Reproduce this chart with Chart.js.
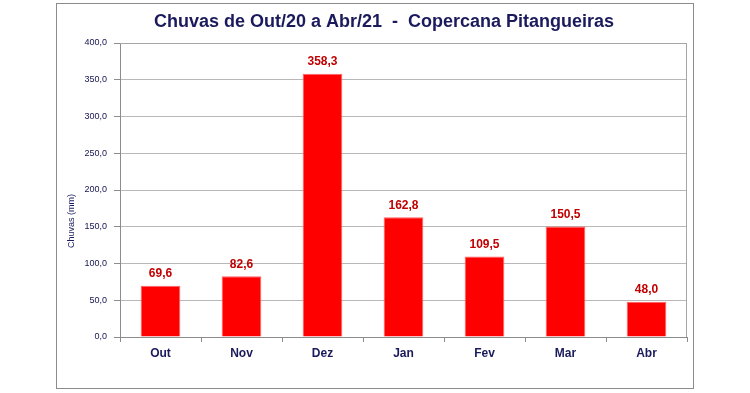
<!DOCTYPE html>
<html>
<head>
<meta charset="utf-8">
<script src="https://cdn.jsdelivr.net/npm/chart.js@4/dist/chart.umd.min.js"></script>
<style>
html,body{margin:0;padding:0;background:#fff;}
#wrap{width:750px;height:393px;}
</style>
</head>
<body>
<div id="wrap"><canvas id="c" width="750" height="393"></canvas></div>
<script>
const categories = ['Out','Nov','Dez','Jan','Fev','Mar','Abr'];
const rainfall = [69.6, 82.6, 358.3, 162.8, 109.5, 150.5, 48.0];
const yTicks = [0, 50, 100, 150, 200, 250, 300, 350, 400];
const titleText = 'Chuvas de Out/20 a Abr/21  -  Copercana Pitangueiras';
const yTitle = 'Chuvas (mm)';

const navy = '#1a1a5c';
const fmt = v => Number(v).toFixed(1).replace('.', ',');

const decor = {
  id: 'decor',
  beforeDraw(chart) {
    const ctx = chart.ctx;
    ctx.save();
    ctx.fillStyle = '#fff';
    ctx.fillRect(0, 0, chart.width, chart.height);
    ctx.strokeStyle = '#8c8c8c';
    ctx.lineWidth = 1;
    ctx.strokeRect(56.5, 3.5, 637, 385);
    ctx.restore();
  },
  afterDraw(chart) {
    const ctx = chart.ctx;
    const a = chart.chartArea;
    ctx.save();
    ctx.strokeStyle = '#a6a6a6';
    ctx.lineWidth = 1;
    ctx.beginPath();
    ctx.moveTo(a.left, a.top + 0.5);
    ctx.lineTo(a.right - 0.5, a.top + 0.5);
    ctx.lineTo(a.right - 0.5, a.bottom);
    ctx.stroke();
    // title
    ctx.fillStyle = navy;
    ctx.font = 'bold 18px "Liberation Sans", Arial, sans-serif';
    ctx.textAlign = 'center';
    ctx.textBaseline = 'middle';
    ctx.fillText(titleText, 384, 22);
    // y title
    ctx.font = '9px "Liberation Sans", Arial, sans-serif';
    ctx.translate(72, 221);
    ctx.rotate(-Math.PI / 2);
    ctx.fillText(yTitle, 0, 0);
    ctx.restore();
  },
  afterDatasetsDraw(chart) {
    const ctx = chart.ctx;
    const meta = chart.getDatasetMeta(0);
    ctx.save();
    ctx.fillStyle = '#c00000';
    ctx.font = 'bold 12px "Liberation Sans", Arial, sans-serif';
    ctx.textAlign = 'center';
    ctx.textBaseline = 'bottom';
    meta.data.forEach((bar, i) => {
      ctx.fillText(fmt(chart.data.datasets[0].data[i]), bar.x, bar.y - 6);
    });
    ctx.restore();
  }
};

new Chart(document.getElementById('c'), {
  type: 'bar',
  data: {
    labels: categories,
    datasets: [{
      data: rainfall,
      backgroundColor: '#ff0000',
      borderColor: '#ff6060',
      borderWidth: 1,
      categoryPercentage: 1,
      barPercentage: 0.49
    }]
  },
  options: {
    responsive: false,
    animation: false,
    devicePixelRatio: 1,
    layout: { padding: { left: 0, right: 63, top: 43, bottom: 0 } },
    plugins: { legend: { display: false }, title: { display: false }, tooltip: { enabled: false } },
    scales: {
      x: {
        afterFit(s) { s.height = 56; },
        grid: { offset: true, drawOnChartArea: false, color: '#8c8c8c', tickLength: 5 },
        border: { color: '#8c8c8c' },
        ticks: { color: navy, font: { family: '"Liberation Sans", Arial, sans-serif', size: 12, weight: 'bold' }, padding: 4 }
      },
      y: {
        min: 0, max: 400,
        afterFit(s) { s.width = 120; },
        afterBuildTicks(s) { s.ticks = yTicks.map(v => ({ value: v })); },
        grid: { color: '#b8b8b8', tickLength: 6, tickColor: '#8c8c8c' },
        border: { color: '#8c8c8c' },
        ticks: { color: '#141450', font: { family: '"Liberation Sans", Arial, sans-serif', size: 9 }, padding: 7, callback: v => fmt(v) }
      }
    }
  },
  plugins: [decor]
});
</script>
</body>
</html>
